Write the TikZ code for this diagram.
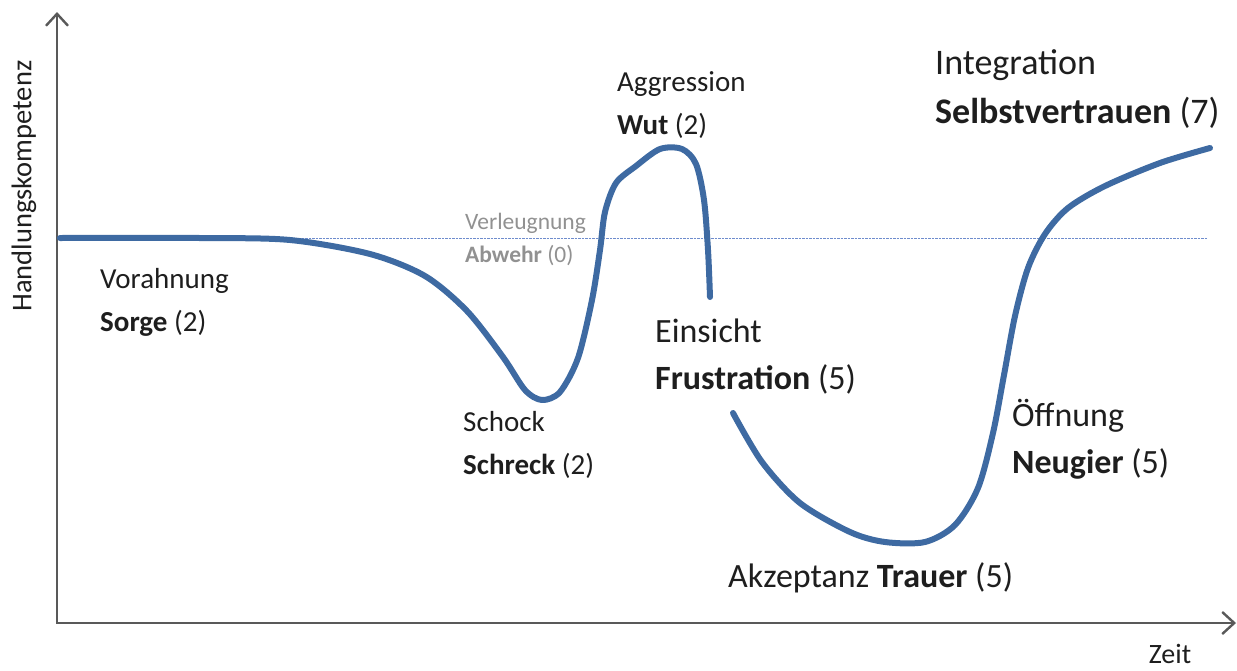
\documentclass[tikz,border=0pt]{standalone}
\usepackage{fontspec}
\setmainfont{Carlito}
\usepackage{xcolor}
\usetikzlibrary{arrows.meta}

\definecolor{curveblue}{RGB}{62,106,162}
\definecolor{lineblue}{RGB}{110,140,205}
\definecolor{textdark}{RGB}{30,30,30}
\definecolor{textgray}{RGB}{145,145,145}

\begin{document}
\begin{tikzpicture}[x=1pt,y=-1pt,
  axis/.style={line width=2.4pt,draw=black!65,{Straight Barb[length=12pt,width=22pt]}-{Straight Barb[length=12pt,width=22pt]}},
  phase/.style={line width=6pt,draw=curveblue,line cap=round,line join=round},
  level/.style={line width=0.9pt,draw=lineblue,dash pattern=on 2.5pt off 1pt},
  stage/.style={anchor=west,align=left,inner sep=0pt,text=textdark,font=\fontsize{29}{43}\selectfont},
  bigstage/.style={stage,font=\fontsize{34}{47}\selectfont}]
\useasboundingbox (0,0) rectangle (1237,670);
%% axes
\coordinate (origin) at (57,623);
\coordinate (ytop) at (57,12);
\coordinate (xend) at (1236,623);
\draw [axis] (ytop) -- (origin) -- (xend);
\node (ylabel) [rotate=90,text=textdark,font=\fontsize{28.5}{32}\selectfont] at (24,186) {Handlungskompetenz};
\node (xlabel) [text=textdark,font=\fontsize{28}{32}\selectfont] at (1170,654) {Zeit};
%% reference level
\coordinate (lvlstart) at (60,238);
\coordinate (lvlend) at (1208,238);
\draw [level] (lvlstart) -- (lvlend);
%% the curve
\draw [phase] plot [smooth,tension=0.5] coordinates {(60,238) (200,238) (290,240)
  (370,254) (425,276) (467,311) (503,357) (525,390) (542,400) (560,392) (578,358) (592,300)
  (600,250) (605,212) (616,183) (636,166) (660,149) (682,149) (696,164) (704,200) (708,250)
  (710,297)};
\draw [phase] plot [smooth,tension=0.5] coordinates {(733,413) (762,462) (800,503)
  (850,532) (885,542) (925,542) (955,525) (978,488) (993,433) (1004,375) (1015,316)
  (1028,268) (1045,234) (1068,208) (1105,186) (1160,163) (1210,148)};
%% labels
\node (sorge) [stage] at (100,302) {Vorahnung\\\textbf{Sorge} (2)};
\node (abwehr) [stage,text=textgray,font=\fontsize{23.5}{33}\selectfont] at (465,239) {Verleugnung\\\textbf{Abwehr} (0)};
\node (schreck) [stage] at (463,445) {Schock\\\textbf{Schreck} (2)};
\node (wut) [stage] at (617,105) {Aggression\\\textbf{Wut} (2)};
\node (frust) [bigstage] at (655,357) {Einsicht\\\textbf{Frustration} (5)};
\node (selbst) [stage,font=\fontsize{36}{49}\selectfont] at (935,89) {Integration\\\textbf{Selbstvertrauen} (7)};
\node (neugier) [bigstage] at (1012,439) {Öffnung\\\textbf{Neugier} (5)};
\node (trauer) [bigstage] at (728,578) {Akzeptanz \textbf{Trauer} (5)};
\end{tikzpicture}
\end{document}
